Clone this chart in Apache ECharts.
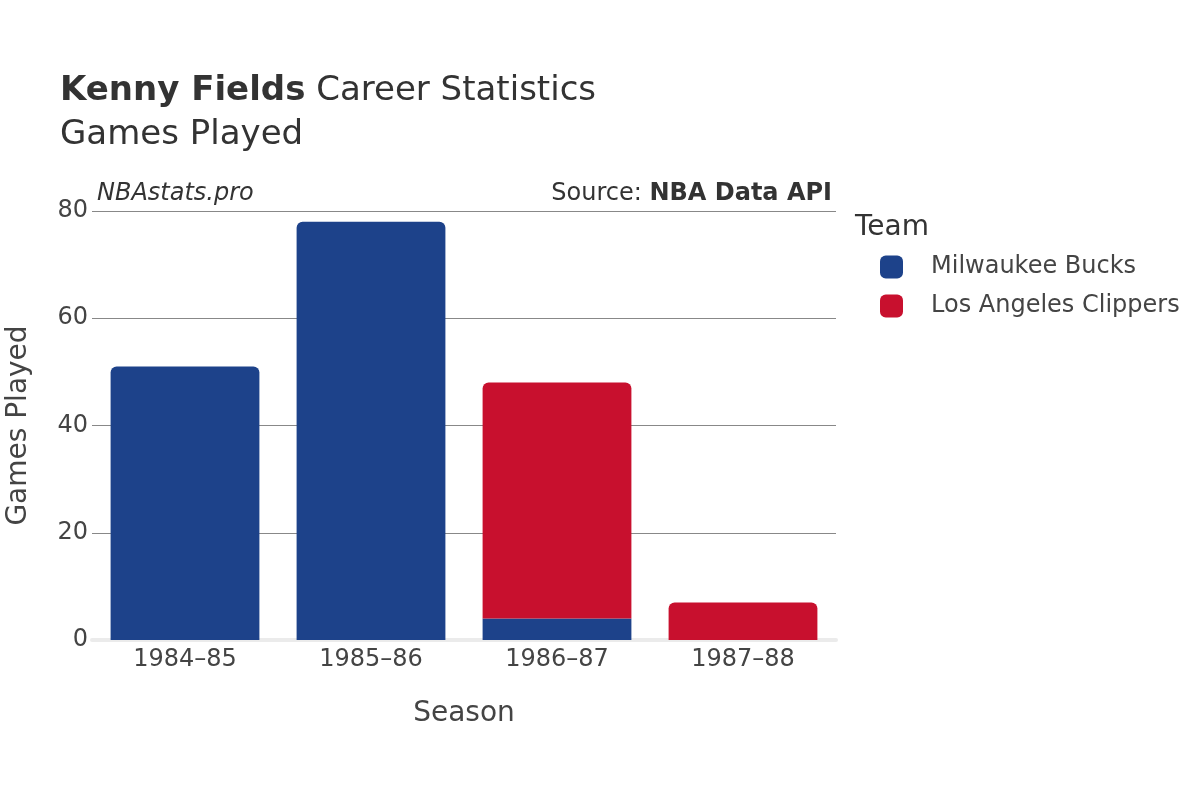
<!DOCTYPE html>
<html>
<head>
<meta charset="utf-8">
<script src="https://cdn.jsdelivr.net/npm/echarts@6/dist/echarts.min.js"></script>
<style>
	html, body { margin: 0; padding: 0; background: #fff; }
	#chart { width: 1200px; height: 800px; }
</style>
</head>
<body>
<div id="chart"></div>
<script>
	// data
	const seasons = ['1984–85', '1985–86', '1986–87', '1987–88'];
	const bucksGames = [51, 78, 4, null];
	const clippersGames = [null, null, 44, 7];
	const yTicks = [0, 20, 40, 60, 80];

	const FONT = 'DejaVu Sans';
	const TXT = '#444';
	const BLUE = '#1d428a';
	const RED = '#c8102e';

	// round only the top segment of each stack
	function barData(values, above) {
		return values.map((v, i) => {
			if (v == null) return '-';
			const onTop = !above || above[i] == null;
			return { value: v, itemStyle: { borderRadius: onTop ? [6, 6, 0, 0] : 0 } };
		});
	}

	const chart = echarts.init(document.getElementById('chart'));
	chart.setOption({
		animation: false,
		textStyle: { fontFamily: FONT },
		title: {
			left: 55,
			top: 64,
			text: '{b|Kenny Fields} Career Statistics\nGames Played',
			textStyle: {
				fontFamily: FONT,
				fontSize: 34,
				fontWeight: 'normal',
				color: '#333',
				lineHeight: 44,
				rich: { b: { fontFamily: FONT, fontSize: 34, fontWeight: 'bold', color: '#333', lineHeight: 44 } }
			}
		},
		graphic: [
			{ type: 'text', left: 97, top: 182, style: { text: 'NBAstats.pro', font: 'italic 24px "DejaVu Sans"', fill: '#333' } },
			{ type: 'text', right: 368, top: 182, style: { text: '{n|Source: }{b|NBA Data API}', font: '24px "DejaVu Sans"', fill: '#333',
				rich: { n: { fontFamily: FONT, fontSize: 24, color: '#333' }, b: { fontFamily: FONT, fontSize: 24, fontWeight: 'bold', color: '#333' } } } },
			{ type: 'text', left: 855, top: 214, style: { text: 'Team', font: '28px "DejaVu Sans"', fill: '#333' } }
		],
		legend: {
			orient: 'vertical',
			left: 875,
			top: 250,
			itemWidth: 23,
			itemHeight: 23,
			itemGap: 15,
			icon: 'roundRect',
			textStyle: { fontFamily: FONT, fontSize: 24, color: TXT, padding: [0, 0, 0, 23] },
			data: ['Milwaukee Bucks', 'Los Angeles Clippers']
		},
		grid: { left: 92, right: 364, top: 211, bottom: 160, outerBoundsMode: 'none' },
		xAxis: {
			type: 'category',
			data: seasons,
			name: 'Season',
			nameLocation: 'middle',
			nameGap: 60,
			nameTextStyle: { fontFamily: FONT, fontSize: 28, color: TXT },
			axisTick: { show: false },
			axisLine: { show: true, lineStyle: { color: '#ebebeb', width: 4 } },
			axisLabel: { fontFamily: FONT, fontSize: 24, color: TXT, margin: 8 }
		},
		yAxis: {
			type: 'value',
			min: yTicks[0],
			max: yTicks[yTicks.length - 1],
			interval: 20,
			name: 'Games Played',
			nameLocation: 'middle',
			nameGap: 59,
			nameTextStyle: { fontFamily: FONT, fontSize: 28, color: TXT },
			axisLine: { show: false },
			axisTick: { show: false },
			splitLine: { lineStyle: { color: '#888', width: 1 } },
			axisLabel: { fontFamily: FONT, fontSize: 24, color: TXT, margin: 4, padding: [5, 0, 0, 0] }
		},
		series: [
			{
				name: 'Milwaukee Bucks',
				type: 'bar',
				stack: 'games',
				barCategoryGap: '20%',
				itemStyle: { color: BLUE },
				data: barData(bucksGames, clippersGames)
			},
			{
				name: 'Los Angeles Clippers',
				type: 'bar',
				stack: 'games',
				barCategoryGap: '20%',
				itemStyle: { color: RED },
				data: barData(clippersGames, null)
			}
		]
	});
</script>
</body>
</html>
